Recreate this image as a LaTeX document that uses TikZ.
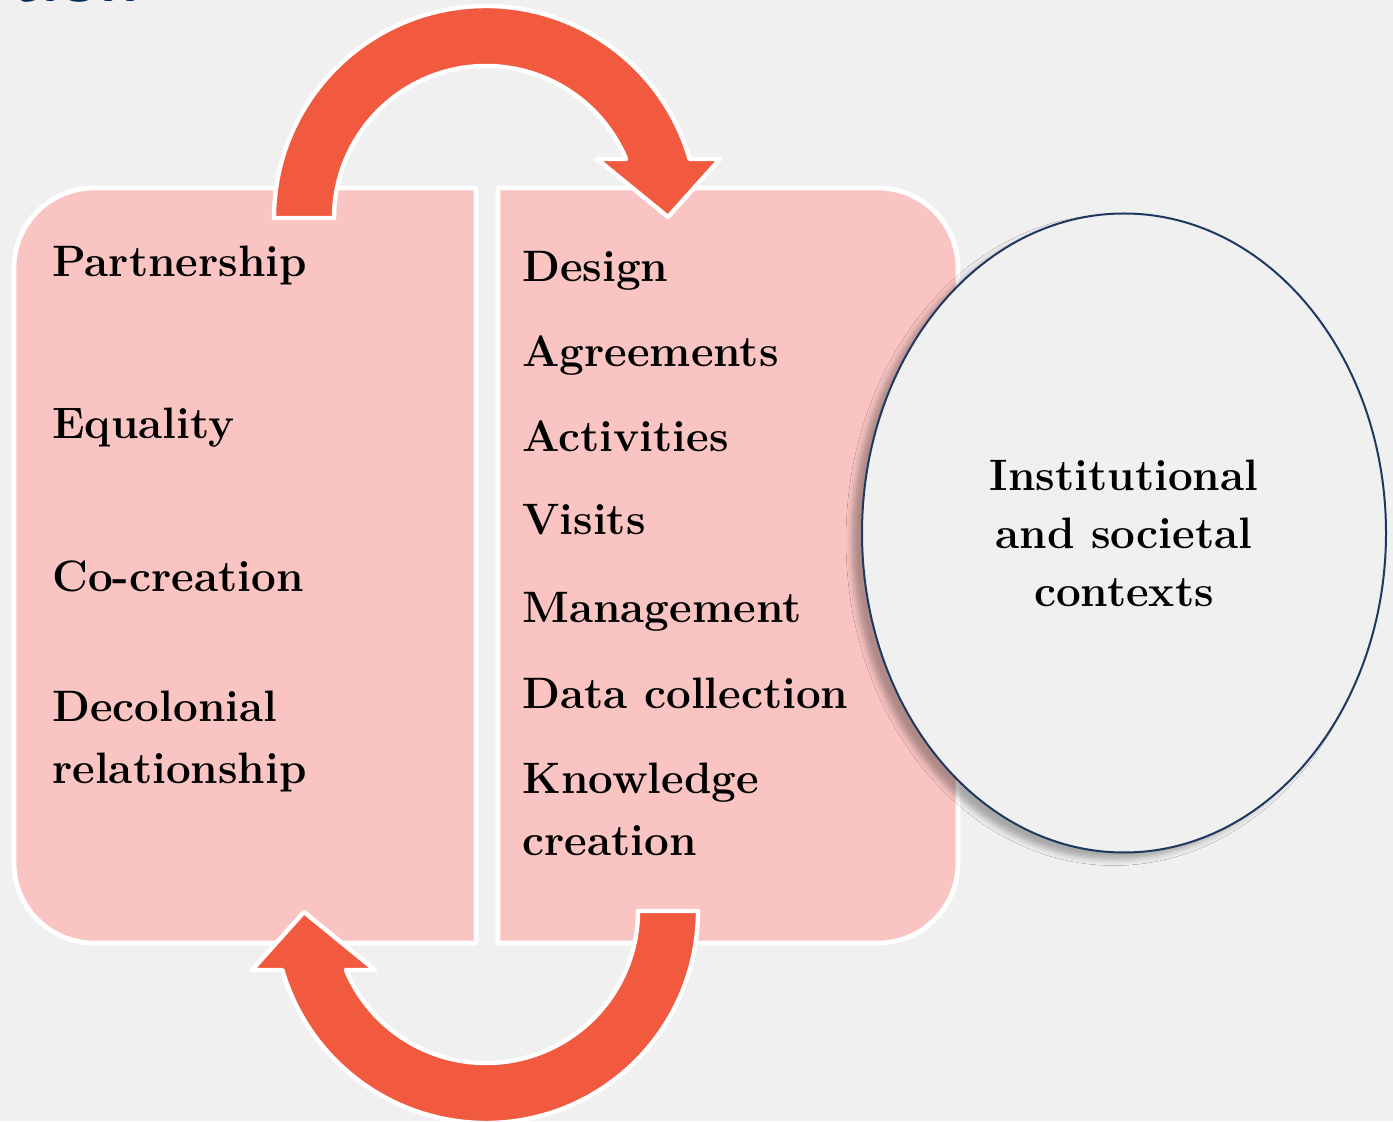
\documentclass[tikz,border=0pt]{standalone}
\usetikzlibrary{shapes.geometric, shadows.blur}

\definecolor{slidebg}{RGB}{240,240,240}
\definecolor{boxpink}{RGB}{249,196,194}
\definecolor{loopred}{RGB}{242,90,64}
\definecolor{ctxnavy}{RGB}{31,56,96}
\definecolor{titlenavy}{RGB}{0,40,86}

\tikzset{
  boxpart/.style={fill=boxpink, draw=white, line width=2.4pt, line join=round},
  loopshape/.style={fill=loopred, draw=white, line width=2.2pt, line join=round},
  itemtext/.style={anchor=base west, inner sep=0pt, align=left,
                   font=\bfseries\fontsize{22}{31}\selectfont},
  ctxcircle/.style={ellipse, draw=ctxnavy, line width=1pt, fill=slidebg,
                    minimum width=262pt, minimum height=319.5pt, inner sep=0pt,
                    align=center, font=\bfseries\fontsize{22}{29}\selectfont,
                    blur shadow={shadow xshift=-5pt, shadow yshift=-3.5pt,
                                 shadow blur radius=3pt, shadow opacity=30}}
}

\begin{document}
\begin{tikzpicture}[x=0.5pt, y=0.5pt]
  \useasboundingbox (0,0) rectangle (1393,1121);
  \fill[slidebg] (0,0) rectangle (1393,1121);

  % cut-off slide title
  \begin{scope}
    \clip (0,0) rectangle (1393,1121);
    \node[anchor=base east, inner sep=0pt, text=titlenavy,
          font=\sffamily\bfseries\fontsize{36}{36}\selectfont]
          (ttl) at (140,1119) {tion};
  \end{scope}

  % the two halves
  \path[boxpart] (476,178) -- (94,178) arc[start angle=270, end angle=180, radius=80]
        -- (14,853) arc[start angle=180, end angle=90, radius=80] -- (476,933) -- cycle;
  \path[boxpart] (498,178) -- (878,178) arc[start angle=-90, end angle=0, radius=80]
        -- (958,853) arc[start angle=0, end angle=90, radius=80] -- (498,933) -- cycle;

  % context
  \node[ctxcircle] (ctx) at (1124,588) {Institutional\\and societal\\contexts};

  % loop arrows, the lower one is the upper one turned round
  \foreach \turn in {0,180}{
    \path[loopshape, rotate around={\turn:(486,556.5)}]
      (274,903) arc[start angle=180, end angle=16.16, radius=212]
      -- (720,962) -- (668,904) -- (597,962) -- (626.1,962)
      arc[start angle=22.84, end angle=180, radius=152] -- cycle;
  }

  % left column (two-line items sit on their last baseline)
  \node[itemtext] (part) at (52,844) {Partnership};
  \node[itemtext] (equal) at (52,682) {Equality};
  \node[itemtext] (cocre) at (52,529) {Co-creation};
  \node[itemtext] (decol) at (52,338) {Decolonial\\relationship};

  % right column
  \node[itemtext] (design) at (522,839) {Design};
  \node[itemtext] (agree) at (522,754) {Agreements};
  \node[itemtext] (activ) at (522,669) {Activities};
  \node[itemtext] (visit) at (522,586) {Visits};
  \node[itemtext] (manage) at (522,498) {Management};
  \node[itemtext] (data) at (522,413) {Data collection};
  \node[itemtext] (know) at (522,266) {Knowledge\\creation};
\end{tikzpicture}
\end{document}
